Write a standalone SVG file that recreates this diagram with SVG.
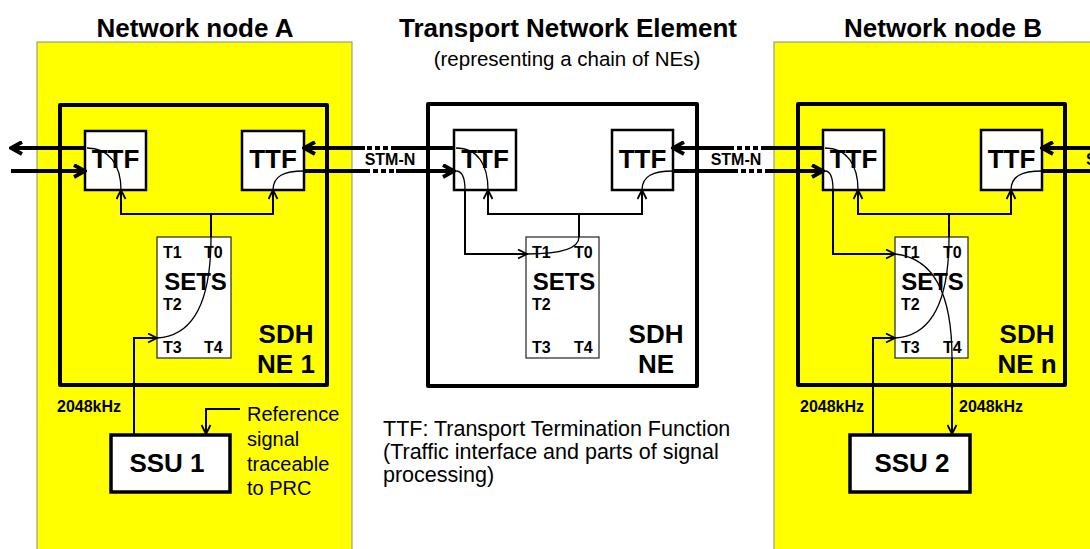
<svg xmlns="http://www.w3.org/2000/svg" width="1090" height="549" viewBox="0 0 1090 549">
<style>
text{font-family:"Liberation Sans",Arial,sans-serif;fill:#000}
.title{font-size:26px;font-weight:bold;text-anchor:middle}
.sub{font-size:20.5px;text-anchor:middle}
.panel{fill:#ffff00;stroke:#8a8a8a;stroke-width:1}
.ne{fill:none;stroke:#000;stroke-width:4;stroke-linejoin:round}
.ttf{fill:#fff;stroke:#000;stroke-width:2.5}
.ttft{font-size:26px;font-weight:bold;text-anchor:middle}
.sets{fill:#fff;stroke:#222;stroke-width:1.2}
.setst{font-size:24px;font-weight:bold;text-anchor:middle}
.port{font-size:16px;font-weight:bold}
.sdh{font-size:26px;font-weight:bold;text-anchor:middle}
.ssu{fill:#fff;stroke:#000;stroke-width:3.5}
.ssut{font-size:26px;font-weight:bold;text-anchor:middle}
.lbl{font-size:16px;font-weight:bold}
.note{font-size:20px}
.tnote{font-size:21.5px}
.thick{fill:none;stroke:#000;stroke-width:4}
.dash{fill:none;stroke:#000;stroke-width:4;stroke-dasharray:5 3}
.thin{fill:none;stroke:#000;stroke-width:2}
.curve{fill:none;stroke:#000;stroke-width:1.3}
.ta{marker-end:url(#ah)}
.na{marker-end:url(#nh)}
</style>
<defs>
<marker id="ah" viewBox="0 0 15 15" refX="13" refY="7.5" markerWidth="15" markerHeight="15" markerUnits="userSpaceOnUse" orient="auto">
<path d="M2,1.5 L13,7.5 L2,13.5" fill="none" stroke="#000" stroke-width="3.8" stroke-linejoin="miter"/>
</marker>
<marker id="nh" viewBox="0 0 11 11" refX="10" refY="5.5" markerWidth="11" markerHeight="11" markerUnits="userSpaceOnUse" orient="auto">
<path d="M1,1 L10,5.5 L1,10" fill="none" stroke="#000" stroke-width="1.8"/>
</marker>
</defs>
<rect width="1090" height="549" fill="#fff"/>

<g id="panel-a">
<rect class="panel" x="37" y="42" width="315" height="520"/>
<text class="title" x="195" y="37">Network node A</text>
</g>
<g id="panel-b">
<rect class="panel" x="774" y="42" width="330" height="520"/>
<text class="title" x="943" y="37">Network node B</text>
</g>
<g id="title-mid">
<text class="title" x="568" y="37">Transport Network Element</text>
<text class="sub" x="567" y="66">(representing a chain of NEs)</text>
</g>

<g id="ne1">
<rect class="ne" x="60" y="105" width="267" height="280"/>
<text class="sdh" x="286" y="343">SDH</text>
<text class="sdh" x="286" y="373">NE 1</text>
</g>
<g id="ne1-ttf-l">
<rect class="ttf" x="85" y="131" width="61" height="59"/>
<text class="ttft" x="115.5" y="168">TTF</text>
</g>
<g id="ne1-ttf-r">
<rect class="ttf" x="242" y="131" width="62" height="59"/>
<text class="ttft" x="273" y="168">TTF</text>
</g>
<g id="ne1-sets">
<rect class="sets" x="157" y="237" width="74" height="121"/>
<text class="port" x="163" y="258">T1</text>
<text class="port" x="204" y="258">T0</text>
<text class="setst" x="195.5" y="290">SETS</text>
<text class="port" x="163" y="310">T2</text>
<text class="port" x="163" y="353">T3</text>
<text class="port" x="204" y="353">T4</text>
</g>

<g id="ne-mid">
<rect class="ne" x="428" y="104" width="269" height="282"/>
<text class="sdh" x="656" y="343">SDH</text>
<text class="sdh" x="656" y="373">NE</text>
</g>
<g id="mid-ttf-l">
<rect class="ttf" x="454" y="130" width="62" height="60"/>
<text class="ttft" x="485" y="168">TTF</text>
</g>
<g id="mid-ttf-r">
<rect class="ttf" x="612" y="130" width="61" height="60"/>
<text class="ttft" x="642.5" y="168">TTF</text>
</g>
<g id="mid-sets">
<rect class="sets" x="526" y="237" width="73" height="121"/>
<text class="port" x="532" y="258">T1</text>
<text class="port" x="574" y="258">T0</text>
<text class="setst" x="564" y="290">SETS</text>
<text class="port" x="532" y="310">T2</text>
<text class="port" x="532" y="353">T3</text>
<text class="port" x="574" y="353">T4</text>
</g>

<g id="ne-n">
<rect class="ne" x="798" y="104" width="267" height="281"/>
<text class="sdh" x="1027" y="343">SDH</text>
<text class="sdh" x="1027" y="373">NE n</text>
</g>
<g id="nen-ttf-l">
<rect class="ttf" x="823" y="130" width="61" height="60"/>
<text class="ttft" x="853.5" y="168">TTF</text>
</g>
<g id="nen-ttf-r">
<rect class="ttf" x="981" y="130" width="61" height="60"/>
<text class="ttft" x="1011.5" y="168">TTF</text>
</g>
<g id="nen-sets">
<rect class="sets" x="895" y="237" width="73" height="121"/>
<text class="port" x="901" y="258">T1</text>
<text class="port" x="943" y="258">T0</text>
<text class="setst" x="932.5" y="290">SETS</text>
<text class="port" x="901" y="310">T2</text>
<text class="port" x="901" y="353">T3</text>
<text class="port" x="943" y="353">T4</text>
</g>

<g id="ssu1">
<rect class="ssu" x="111" y="435" width="119" height="57"/>
<text class="ssut" x="167" y="472">SSU 1</text>
</g>
<g id="ssu2">
<rect class="ssu" x="850" y="435" width="120" height="57"/>
<text class="ssut" x="912" y="472">SSU 2</text>
</g>

<g id="ref-note">
<text class="note" x="247" y="421">Reference</text>
<text class="note" x="247" y="445.5">signal</text>
<text class="note" x="247" y="470.5">traceable</text>
<text class="note" x="247" y="495">to PRC</text>
</g>
<g id="ttf-note">
<text class="tnote" x="383" y="436">TTF: Transport Termination Function</text>
<text class="tnote" x="383" y="459">(Traffic interface and parts of signal</text>
<text class="tnote" x="383" y="482">processing)</text>
</g>

<g id="connectors">
<!-- left edge -->
<path class="thick ta" d="M85,148 L11,148"/>
<path class="thick ta" d="M11,171 L85,171"/>
<!-- A to mid -->
<path class="thick" d="M454,148 L396,148"/>
<path class="dash" d="M396,148 L365,148"/>
<path class="thick ta" d="M365,148 L304,148"/>
<path class="thick" d="M304,171 L365,171"/>
<path class="dash" d="M365,171 L396,171"/>
<path class="thick ta" d="M396,171 L454,171"/>
<text class="lbl" x="390" y="165" text-anchor="middle">STM-N</text>
<!-- mid to B -->
<path class="thick" d="M823,148 L766,148"/>
<path class="dash" d="M766,148 L733,148"/>
<path class="thick ta" d="M733,148 L673,148"/>
<path class="thick" d="M673,171 L733,171"/>
<path class="dash" d="M733,171 L766,171"/>
<path class="thick ta" d="M766,171 L823,171"/>
<text class="lbl" x="736" y="165" text-anchor="middle">STM-N</text>
<!-- right edge -->
<path class="thick ta" d="M1092,148 L1042,148"/>
<path class="thick" d="M1042,171 L1092,171"/>
<text class="lbl" x="1086" y="165">STM-N</text>

<!-- NE1 internal -->
<path class="curve" d="M87,148 C109,148 121,165 121,190"/>
<path class="thin na" d="M121,214 L121,190"/>
<path class="thin na" d="M273,214 L273,190"/>
<path class="thin" d="M120,214 L274,214"/>
<path class="curve" d="M273,190 C273,176 284,171 304,171"/>
<path class="thin" d="M211,214 L211,237"/>
<path class="curve" d="M211,237 C211,300 195,336 157,338"/>
<path class="thin na" d="M134,434 L134,338 L157,338"/>

<!-- mid internal -->
<path class="curve" d="M456,148 C478,148 488,165 488,190"/>
<path class="curve" d="M456,171 C462,171 465,178 465,190"/>
<path class="thin na" d="M465,190 L465,254 L527,254"/>
<path class="thin" d="M487,214 L643,214"/>
<path class="thin na" d="M488,214 L488,190"/>
<path class="thin na" d="M642,214 L642,190"/>
<path class="curve" d="M642,190 C642,176 653,171 673,171"/>
<path class="thin" d="M579,214 L579,237"/>
<path class="curve" d="M579,237 C579,250 556,254 527,254"/>

<!-- NE n internal -->
<path class="curve" d="M825,148 C847,148 858,165 858,190"/>
<path class="curve" d="M825,171 C831,171 833,178 833,190"/>
<path class="thin na" d="M833,190 L833,254 L895,254"/>
<path class="thin" d="M857,214 L1012,214"/>
<path class="thin na" d="M858,214 L858,190"/>
<path class="thin na" d="M1011,214 L1011,190"/>
<path class="curve" d="M1011,190 C1011,176 1022,171 1042,171"/>
<path class="thin" d="M949,214 L949,237"/>
<path class="curve" d="M949,237 C949,300 933,336 895,338"/>
<path class="curve" d="M895,254 C935,258 952,295 952,358"/>
<path class="thin na" d="M952,358 L952,434"/>
<path class="thin na" d="M873,434 L873,338 L895,338"/>

<!-- reference signal -->
<path class="thin na" d="M240,409 L206,409 L206,434"/>
<text class="lbl" x="57" y="412">2048kHz</text>
<text class="lbl" x="800" y="412">2048kHz</text>
<text class="lbl" x="959" y="412">2048kHz</text>
</g>
</svg>
